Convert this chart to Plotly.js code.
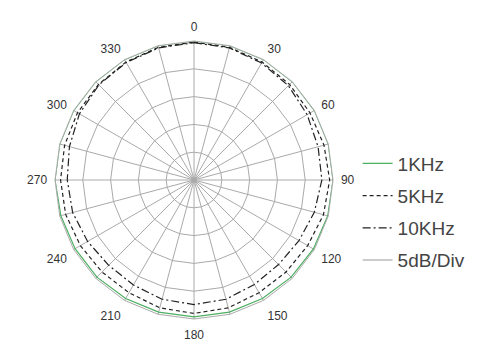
<!DOCTYPE html>
<html>
<head>
<meta charset="utf-8">
<script src="https://cdn.plot.ly/plotly-3.0.1.min.js"></script>
<style>html,body{margin:0;padding:0;background:#fff;}#chart{width:480px;height:356px;}</style>
</head>
<body>
<div id="chart"></div>
<script>
// Angles (degrees) every 15°
const angles = ["0","15","30","45","60","75","90","105","120","135","150","165","180","195","210","225","240","255","270","285","300","315","330","345"];
const angleLabels = ["0","","30","","60","","90","","120","","150","","180","","210","","240","","270","","300","","330",""];
// Relative level in dB
const level1k  = [0,0,0,0,0,0,0,-0.1,-0.2,-0.3,-0.4,-0.4,-0.4,-0.4,-0.4,-0.3,-0.3,-0.2,0,0,0,0,0,0];
const level5k  = [-0.2,-0.3,-0.5,-0.7,-0.9,-0.8,-0.6,-0.9,-1.4,-1.6,-1.6,-1.2,-1.0,-1.2,-1.6,-1.6,-1.4,-1.1,-1.0,-0.9,-0.8,-0.7,-0.5,-0.3];
const level10k = [-0.3,-0.4,-0.7,-1.0,-1.5,-1.9,-2.0,-2.6,-3.2,-3.5,-3.3,-2.8,-2.6,-2.8,-3.2,-3.3,-2.9,-2.4,-2.2,-1.8,-1.2,-0.8,-0.6,-0.4];
const seriesNames = ["1KHz","5KHz","10KHz","5dB/Div"];

const close = a => a.concat([a[0]]);
const th = close(angles);

const traces = [
  {type:'scatterpolar', mode:'lines', name:seriesNames[0], r:close(level1k), theta:th,
   line:{color:'#4daf62', width:1.2}, legendgroup:'a'},
  {type:'scatterpolar', mode:'lines', name:seriesNames[1], r:close(level5k), theta:th,
   line:{color:'#222', width:1.2, dash:'4px,3px'}, legendgroup:'b'},
  {type:'scatterpolar', mode:'lines', name:seriesNames[2], r:close(level10k), theta:th,
   line:{color:'#222', width:1.2, dash:'8px,3px,2px,3px'}, legendgroup:'c'},
  // legend-only scale key (no visible data)
  {type:'scatterpolar', mode:'lines', name:seriesNames[3], r:[null], theta:[null],
   line:{color:'#999', width:1.2}, legendgroup:'d', hoverinfo:'skip'}
];

const layout = {
  width:480, height:356,
  margin:{l:0,r:0,t:0,b:0},
  paper_bgcolor:'#fff',
  font:{family:'Liberation Sans, Arial, sans-serif', color:'#333'},
  showlegend:true,
  legend:{x:0.745, xanchor:'left', y:0.594, yanchor:'top',
          font:{family:'Liberation Sans, Arial, sans-serif', size:19, color:'#444'},
          traceorder:'grouped', tracegroupgap:4.5, bgcolor:'rgba(0,0,0,0)'},
  polar:{
    domain:{x:[0.1146,0.6938], y:[0.1039,0.8848]},
    bgcolor:'#fff',
    gridshape:'linear',
    radialaxis:{range:[-25,0], dtick:5, showticklabels:false, ticks:'',
                gridcolor:'#aaa', gridwidth:1, showline:false},
    angularaxis:{type:'category', categoryarray:angles, categoryorder:'array',
                 rotation:90, direction:'clockwise', color:'#333',
                 tickmode:'array', tickvals:angles, ticktext:angleLabels,
                 ticks:'outside', ticklen:5, tickcolor:'rgba(0,0,0,0)',
                 gridcolor:'#aaa', gridwidth:1, linecolor:'#aaa', linewidth:1, showline:true,
                 tickfont:{family:'Liberation Sans, Arial, sans-serif', size:12, color:'#333'}}
  }
};

Plotly.newPlot('chart', traces, layout, {displayModeBar:false, staticPlot:true});
</script>
</body>
</html>
